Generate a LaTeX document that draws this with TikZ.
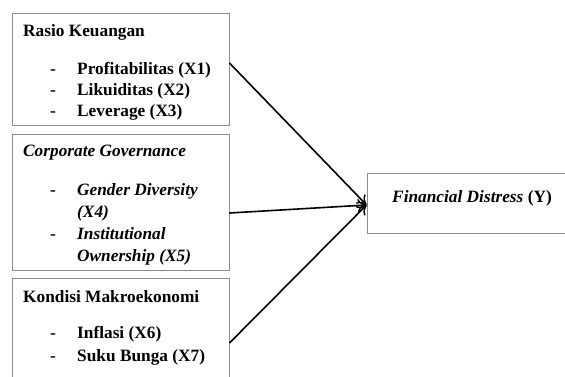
\documentclass[tikz,border=0pt]{standalone}
\usepackage{fontspec}
\setmainfont{Liberation Serif}
\usetikzlibrary{arrows.meta}
\begin{document}
\begin{tikzpicture}[x=1pt,y=-1pt,
  box/.style={draw=black!45,line width=0.9pt,rectangle,inner sep=0pt},
  txt/.style={anchor=base west,inner sep=0pt,font=\fontsize{17.3}{20}\selectfont\bfseries},
  itxt/.style={txt,font=\fontsize{17.3}{20}\selectfont\bfseries\itshape},
  conn/.style={draw=black,line width=1.6pt,-{To[length=9pt,width=13pt,line width=1.4pt]}}]
\clip (0,0) rectangle (565,377);
\fill[white] (0,0) rectangle (565,377);
% boxes
\node[box,minimum width=217pt,minimum height=112pt] (b1) at (120.5,69) {};
\node[box,minimum width=217pt,minimum height=136pt] (b2) at (120.5,202.5) {};
\node[box,minimum width=217pt,minimum height=120pt] (b3) at (120.5,338) {};
\node[box,minimum width=220pt,minimum height=60pt] (by) at (477,203) {};
% texts box 1
\node[txt] (t1) at (23,37) {Rasio Keuangan};
\node[txt] (d1) at (50,75) {-};
\node[txt] (t11) at (77,75) {Profitabilitas (X1)};
\node[txt] (d2) at (50,96) {-};
\node[txt] (t12) at (77,96) {Likuiditas (X2)};
\node[txt] (d3) at (50,117) {-};
\node[txt] (t13) at (77,117) {Leverage (X3)};
% texts box 2
\node[itxt] (t2) at (23,157) {Corporate Governance};
\node[txt] (d4) at (50,195) {-};
\node[itxt] (t21) at (77,195) {Gender Diversity};
\node[itxt] (t21b) at (77,217) {(X4)};
\node[txt] (d5) at (50,239) {-};
\node[itxt] (t22) at (77,239) {Institutional};
\node[itxt] (t22b) at (77,261) {Ownership (X5)};
% texts box 3
\node[txt] (t3) at (23,302) {Kondisi Makroekonomi};
\node[txt] (d6) at (50,338) {-};
\node[txt] (t31) at (77,338) {Inflasi (X6)};
\node[txt] (d7) at (50,361) {-};
\node[txt] (t32) at (77,361) {Suku Bunga (X7)};
% text Y
\node[anchor=base,inner sep=0pt,font=\fontsize{17.3}{20}\selectfont\bfseries] (ty) at (472,202) {\textit{Financial Distress} (Y)};
% arrows
\coordinate (tip) at ([yshift=-2pt]by.west);
\draw[conn] ([yshift=6pt]b1.east) -- (tip);
\draw[conn] ([yshift=-10.5pt]b2.east) -- (tip);
\draw[conn] (b3.east |- 0,343) -- (tip);
\end{tikzpicture}
\end{document}
